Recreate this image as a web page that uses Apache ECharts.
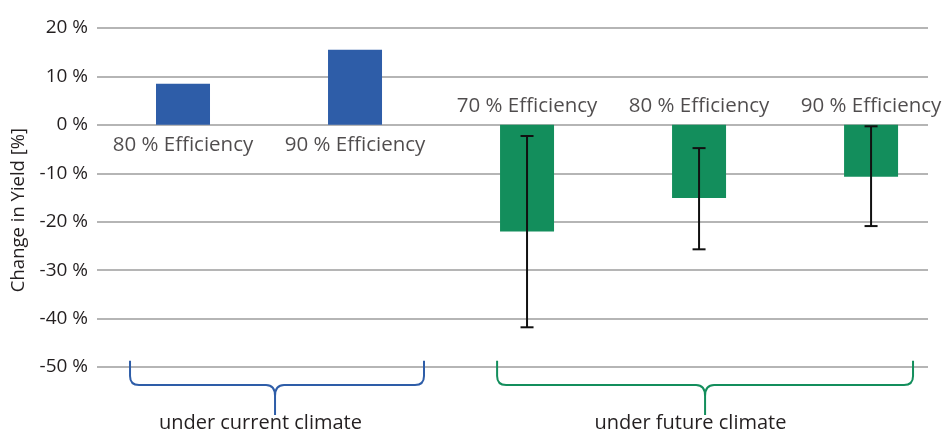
<!DOCTYPE html>
<html>
<head>
<meta charset="utf-8">
<script src="https://cdn.jsdelivr.net/npm/echarts@6/dist/echarts.min.js"></script>
<style>html,body{margin:0;padding:0;background:#fff}#c{width:946px;height:434px}</style>
</head>
<body>
<div id="c"></div>
<script>
// ---- data ----
var categories = ['80 % Efficiency', '90 % Efficiency', '70 % Efficiency', '80 % Efficiency', '90 % Efficiency'];
var groupOfCategory = ['current', 'current', 'future', 'future', 'future'];
var yieldChange = [8.5, 15.5, -22.0, -15.1, -10.7];
var errorLow = [null, null, -41.8, -25.7, -20.9];
var errorHigh = [null, null, -2.3, -4.8, -0.3];
var groupNames = ['under current climate', 'under future climate'];
var yAxisTitle = 'Change in Yield [%]';
var yTicks = [-50, -40, -30, -20, -10, 0, 10, 20];

var BLUE = '#2e5da8', GREEN = '#138e5c';
var colorOf = { current: BLUE, future: GREEN };

var barData = yieldChange.map(function (v, i) {
  return { value: [i, v], itemStyle: { color: colorOf[groupOfCategory[i]] } };
});
var errData = [];
for (var i = 0; i < categories.length; i++) {
  if (errorLow[i] != null) errData.push([i, errorLow[i], errorHigh[i]]);
}
var labelData = categories.map(function (c, i) {
  var up = yieldChange[i] < 0;
  return {
    value: [i, 0],
    label: { show: true, formatter: c, position: up ? 'top' : 'bottom', distance: up ? 8 : 10 }
  };
});
// brace annotations: [startX, tipX, endX] in category units
var braceSpans = [[-0.308, 0.535, 1.401], [1.826, 3.035, 4.244]];
var braceLabelX = [0.45, 2.95];
var braceData = groupNames.map(function (g, k) {
  return [braceSpans[k][0], braceSpans[k][1], braceSpans[k][2], k];
});
var braceColors = [BLUE, GREEN];

var FONT = '"Open Sans"';
var TXT = '#231f20';
var chart = echarts.init(document.getElementById('c'), null, { renderer: 'canvas' });
chart.setOption({
  animation: false,
  textStyle: { fontFamily: FONT },
  grid: { left: 97, right: 18, top: 28, bottom: 67, containLabel: false },
  graphic: [{
    type: 'text', x: 19, y: 210, rotation: Math.PI / 2,
    style: { text: yAxisTitle, fill: TXT, font: '18.5px "Open Sans"', textAlign: 'center', textVerticalAlign: 'middle' }
  }],
  xAxis: {
    type: 'value', min: -0.5, max: 4.331, show: false
  },
  yAxis: {
    type: 'value', min: -50, max: 20, interval: 10,
    axisLine: { show: false }, axisTick: { show: false },
    axisLabel: { formatter: '{value} %', fontFamily: FONT, fontSize: 19, color: TXT, margin: 9 },
    splitLine: { lineStyle: { color: '#b5b5b5', width: 2 } }
  },
  series: [
    {
      type: 'bar', data: barData, barWidth: 54, z: 2
    },
    {
      type: 'custom', z: 5, data: errData,
      renderItem: function (params, api) {
        var x = api.value(0);
        var lo = api.coord([x, api.value(1)]);
        var hi = api.coord([x, api.value(2)]);
        var hw = 6.5;
        var st = { stroke: '#111', lineWidth: 2 };
        return {
          type: 'group', children: [
            { type: 'line', shape: { x1: lo[0], y1: lo[1], x2: hi[0], y2: hi[1] }, style: st },
            { type: 'line', shape: { x1: lo[0] - hw, y1: lo[1], x2: lo[0] + hw, y2: lo[1] }, style: st },
            { type: 'line', shape: { x1: hi[0] - hw, y1: hi[1], x2: hi[0] + hw, y2: hi[1] }, style: st }
          ]
        };
      }
    },
    {
      type: 'scatter', symbolSize: 0, data: labelData, z: 6,
      label: { color: TXT, fontFamily: FONT, fontSize: 20.5 }
    },
    {
      type: 'custom', z: 4, clip: false, data: braceData,
      renderItem: function (params, api) {
        var k = api.value(3);
        var yTop = api.coord([0, -48.7])[1];
        var yH = api.coord([0, -53.7])[1];
        var yTip = api.coord([0, -59.9])[1];
        var x0 = api.coord([api.value(0), 0])[0];
        var xc = api.coord([api.value(1), 0])[0];
        var x1 = api.coord([api.value(2), 0])[0];
        var r = 9, rt = 9;
        var p = 'M' + x0 + ',' + yTop + ' L' + x0 + ',' + (yH - r) +
          ' Q' + x0 + ',' + yH + ' ' + (x0 + r) + ',' + yH +
          ' L' + (xc - rt) + ',' + yH +
          ' Q' + xc + ',' + yH + ' ' + xc + ',' + (yH + rt + 2) +
          ' L' + xc + ',' + yTip +
          ' M' + xc + ',' + (yH + rt + 2) +
          ' Q' + xc + ',' + yH + ' ' + (xc + rt) + ',' + yH +
          ' L' + (x1 - r) + ',' + yH +
          ' Q' + x1 + ',' + yH + ' ' + x1 + ',' + (yH - r) +
          ' L' + x1 + ',' + yTop;
        var lx = api.coord([braceLabelX[k], 0])[0];
        return {
          type: 'group', children: [
            { type: 'path', shape: { pathData: p },
              style: { stroke: braceColors[k], lineWidth: 2, fill: null } },
            { type: 'text', x: lx, y: yTip + 8,
              style: { text: groupNames[k], fill: TXT, font: '20px "Open Sans"', textAlign: 'center', textVerticalAlign: 'middle' } }
          ]
        };
      }
    }
  ]
});
</script>
</body>
</html>
